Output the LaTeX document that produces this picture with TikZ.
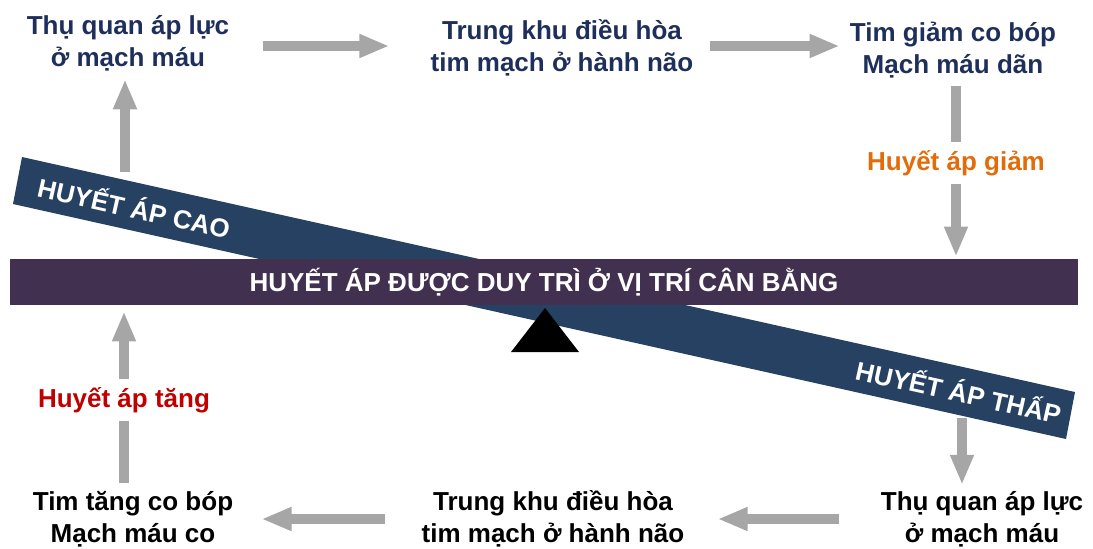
\documentclass[tikz,border=0pt]{standalone}
\usepackage{fontspec}
\setmainfont{Liberation Sans}
\usetikzlibrary{positioning, arrows.meta}

\definecolor{beamcol}{HTML}{41304F}
\definecolor{barcol}{HTML}{264162}
\definecolor{flowgray}{HTML}{A6A6A6}
\definecolor{navytext}{HTML}{1F2F5C}
\definecolor{downcol}{HTML}{E36C0A}
\definecolor{upcol}{HTML}{C00000}

\begin{document}
\begin{tikzpicture}[
    x=0.5pt, y=-0.5pt,
    element/.style={
        font=\fontsize{13}{16}\selectfont\bfseries,
        align=center,
        inner sep=0pt
    },
    topbox/.style={element, text=navytext},
    botbox/.style={element, text=black},
    sign/.style={element, inner sep=4pt},
    flow/.style={draw=flowgray, line width=5pt, -{Triangle[width=11pt, length=15pt]}},
    shaft/.style={draw=flowgray, line width=5pt}
]

\useasboundingbox (0,0) rectangle (1093,548);

% Tilted bar
\fill[barcol] (22,157) -- (1075,392) -- (1066,439) -- (13,204) -- cycle;
\coordinate (barL) at (17.5,180.5);
\coordinate (barR) at (1070.5,415.5);
\path (barL) -- (barR)
    node[element, pos=0.111, sloped, text=white] (cao) {HUYẾT ÁP CAO}
    node[element, pos=0.894, sloped, text=white] (thap) {HUYẾT ÁP THẤP};

% Balance beam
\node[element, fill=beamcol, text=white, minimum width=534pt, minimum height=23pt]
    (beam) at (544,282) {HUYẾT ÁP ĐƯỢC DUY TRÌ Ở VỊ TRÍ CÂN BẰNG};

% Pivot
\fill (545,308) -- (579,352) -- (511,352) -- cycle;

% Top row
\node[topbox] (recTop) at (128,43) {Thụ quan áp lực\\ở mạch máu};
\node[topbox] (ctrTop) at (562,48) {Trung khu điều hòa\\tim mạch ở hành não};
\node[topbox] (effTop) at (953,50) {Tim giảm co bóp\\Mạch máu dãn};

% Bottom row
\node[botbox] (recBot) at (982,519) {Thụ quan áp lực\\ở mạch máu};
\node[botbox] (ctrBot) at (553,519) {Trung khu điều hòa\\tim mạch ở hành não};
\node[botbox] (effBot) at (133,519) {Tim tăng co bóp\\Mạch máu co};

% Side labels
\node[sign, text=downcol] (giam) at (956,163) {Huyết áp giảm};
\node[sign, text=upcol] (tang) at (124,400) {Huyết áp tăng};

% Top arrows
\draw[flow, shorten <=16.5pt, shorten >=20.5pt] (recTop.east |- 0,46) -- (ctrTop.west |- 0,46);
\draw[flow, shorten <=8pt, shorten >=5pt] (ctrTop.east |- 0,46) -- (effTop.west |- 0,46);

% Left up (high pressure)
\coordinate (caoTip) at (125,172);
\draw[flow, shorten >=4pt] (caoTip) -- (caoTip |- recTop.south);

% Right down (to beam)
\draw[shaft, shorten <=4pt] (giam.north |- effTop.south) -- (giam.north);
\draw[flow, shorten >=1pt] (giam.south) -- (giam.south |- beam.north);

% Right down (low pressure)
\coordinate (thapTip) at (962,418);
\draw[flow, shorten >=3pt] (thapTip) -- (thapTip |- recBot.north);

% Bottom arrows
\draw[flow, shorten <=20.5pt, shorten >=16.5pt] (recBot.west) -- (ctrBot.east |- recBot.west);
\draw[flow, shorten <=18pt, shorten >=14pt] (ctrBot.west) -- (effBot.east |- ctrBot.west);

% Left up (to beam)
\draw[shaft, shorten <=4pt] (tang.south |- effBot.north) -- (tang.south);
\draw[flow, shorten >=3pt] (tang.north) -- (tang.north |- beam.south);

\end{tikzpicture}
\end{document}
